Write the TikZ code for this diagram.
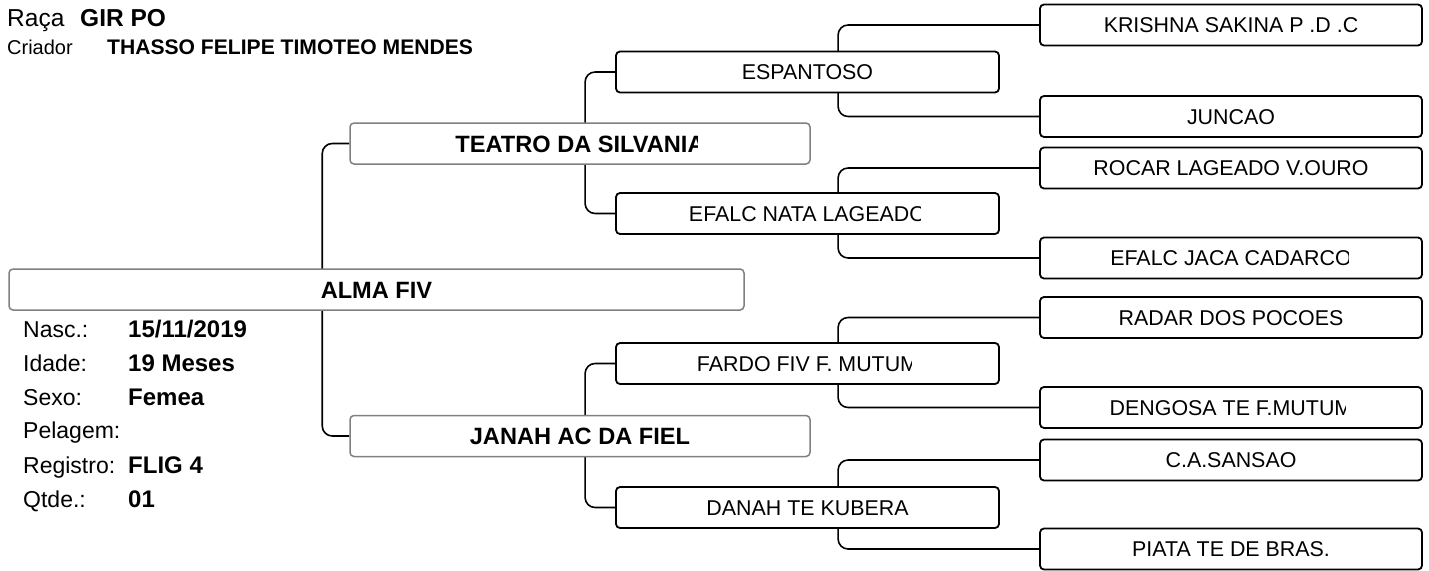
\documentclass[tikz,border=0pt]{standalone}
\usepackage{fontspec}
\setmainfont{Liberation Sans}
\usetikzlibrary{backgrounds}

\begin{document}
\begin{tikzpicture}[x=1pt, y=-1pt,
        boldlbl/.style={inner sep=0pt, text height=17pt, text depth=0pt, font=\bfseries\fontsize{23.6}{26}\selectfont},
        plainlbl/.style={inner sep=0pt, text height=15.3pt, text depth=0pt, font=\fontsize{21.4}{24}\selectfont},
        rootbox/.style={boldlbl, draw=gray, line width=1.5pt, rounded corners=4pt, fill=white, minimum height=41, minimum width=735},
        sirebox/.style={boldlbl, draw=gray, line width=1.5pt, rounded corners=4pt, fill=white, minimum height=41, minimum width=460},
        grandbox/.style={plainlbl, draw=black, line width=1.8pt, rounded corners=4pt, fill=white, minimum height=41, minimum width=383},
        greatbox/.style={plainlbl, draw=black, line width=1.8pt, rounded corners=4pt, fill=white, minimum height=41, minimum width=382},
        bracket/.style={draw=black, line width=1.6pt, rounded corners=10pt},
        infolbl/.style={anchor=base west, inner sep=0pt, font=\fontsize{23}{26}\selectfont},
        infoval/.style={anchor=base west, inner sep=0pt, font=\bfseries\fontsize{24}{27}\selectfont}]

                \useasboundingbox (0,0) rectangle (1429,570);

                % header
                \node[anchor=base west, inner sep=0pt, font=\fontsize{24.5}{28}\selectfont] (racalbl) at (7,27) {Raça};
                \node[anchor=base west, inner sep=0pt, font=\bfseries\fontsize{24.5}{28}\selectfont] (racaval) at (80,27) {GIR PO};
                \node[anchor=base west, inner sep=0pt, font=\fontsize{20}{23}\selectfont] (criadorlbl) at (7,54) {Criador};
                \node[anchor=base west, inner sep=0pt, font=\bfseries\fontsize{21.1}{24}\selectfont] (criadorval) at (107,54) {THASSO FELIPE TIMOTEO MENDES};

                % animal
                \node[rootbox] (alma) at (376.5,289.5) {ALMA FIV};

                % parents
                \node[sirebox] (teatro) at (580,143.5) {};
                \begin{scope}
                    \clip (teatro.north west) rectangle (697,170);
                    \node[boldlbl] (teatrotxt) at (teatro.center) {TEATRO DA SILVANIA};
                \end{scope}
                \node[sirebox] (janah) at (580,436) {JANAH AC DA FIEL};

                % grandparents
                \node[grandbox] (espantoso) at (807.5,72) {ESPANTOSO};
                \node[grandbox] (nata) at (807.5,213.5) {};
                \begin{scope}
                    \clip (nata.north west) rectangle (920,240);
                    \node[plainlbl] (natatxt) at (nata.center) {EFALC NATA LAGEADO};
                \end{scope}
                \node[grandbox] (fardo) at (807.5,363.5) {};
                \begin{scope}
                    \clip (fardo.north west) rectangle (911,390);
                    \node[plainlbl] (fardotxt) at (fardo.center) {FARDO FIV F. MUTUM};
                \end{scope}
                \node[grandbox] (danah) at (807.5,507.5) {DANAH TE KUBERA};

                % great-grandparents
                \node[greatbox] (krishna) at (1231,25) {KRISHNA SAKINA P .D .C};
                \node[greatbox] (juncao) at (1231,116.5) {JUNCAO};
                \node[greatbox] (rocar) at (1231,168) {ROCAR LAGEADO V.OURO};
                \node[greatbox] (jaca) at (1231,258) {};
                \begin{scope}
                    \clip (jaca.north west) rectangle (1348,285);
                    \node[plainlbl] (jacatxt) at (jaca.center) {EFALC JACA CADARCO};
                \end{scope}
                \node[greatbox] (radar) at (1231,317.5) {RADAR DOS POCOES};
                \node[greatbox] (dengosa) at (1231,407.5) {};
                \begin{scope}
                    \clip (dengosa.north west) rectangle (1345,435);
                    \node[plainlbl] (dengosatxt) at (dengosa.center) {DENGOSA TE F.MUTUM};
                \end{scope}
                \node[greatbox] (sansao) at (1231,460) {C.A.SANSAO};
                \node[greatbox] (piata) at (1231,549) {PIATA TE DE BRAS.};

                % brackets behind the boxes
                \begin{scope}[on background layer]
                    \draw[bracket] (teatro.west) -- ++(-27,0) |- (janah.west);
                    \draw[bracket] (espantoso.west) -- ++(-30,0) |- (nata.west);
                    \draw[bracket] (fardo.west) -- ++(-30,0) |- (danah.west);
                    \draw[bracket] (krishna.west) -- ++(-201,0) |- (juncao.west);
                    \draw[bracket] (rocar.west) -- ++(-201,0) |- (jaca.west);
                    \draw[bracket] (radar.west) -- ++(-201,0) |- (dengosa.west);
                    \draw[bracket] (sansao.west) -- ++(-201,0) |- (piata.west);
                \end{scope}

                % data
                \node[infolbl] (nasclbl) at (23,337) {Nasc.:};
                \node[infoval] (nascval) at (128,337) {15/11/2019};
                \node[infolbl] (idadelbl) at (23,371.5) {Idade:};
                \node[infoval] (idadeval) at (128,371.5) {19 Meses};
                \node[infolbl] (sexolbl) at (23,405) {Sexo:};
                \node[infoval] (sexoval) at (128,405) {Femea};
                \node[infolbl] (pelagemlbl) at (23,438.5) {Pelagem:};
                \node[infolbl] (registrolbl) at (23,473) {Registro:};
                \node[infoval] (registroval) at (128,473) {FLIG 4};
                \node[infolbl] (qtdelbl) at (23,507) {Qtde.:};
                \node[infoval] (qtdeval) at (128,507) {01};

            \end{tikzpicture}
\end{document}
